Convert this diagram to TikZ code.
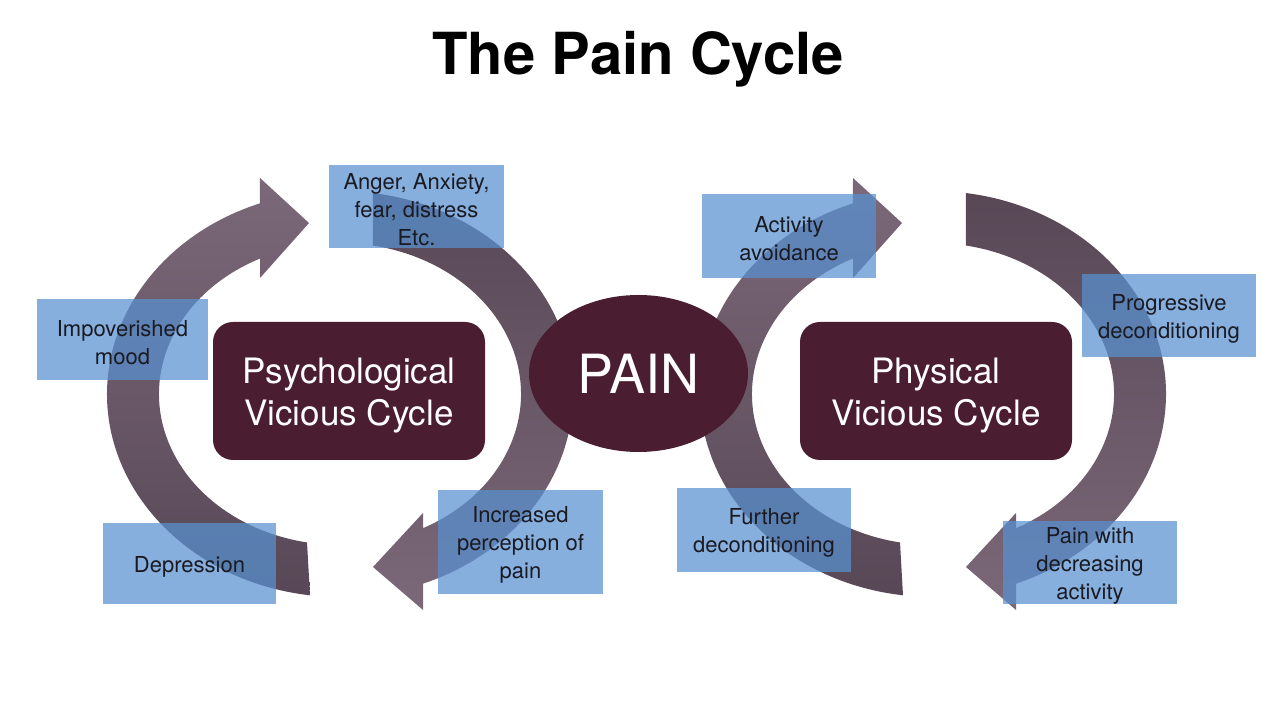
\documentclass[tikz,border=0pt]{standalone}
\usepackage{fontspec}
\setmainfont{TeX Gyre Heros}
\usetikzlibrary{shapes.geometric}
\definecolor{arrlight}{HTML}{7B6878}
\definecolor{arrdark}{HTML}{584856}
\definecolor{boxblue}{HTML}{5891D1}
\definecolor{plum}{HTML}{4A1D31}
\definecolor{labeltext}{HTML}{1A1A22}
\begin{document}
\begin{tikzpicture}[x=1pt,y=1pt,
  arrowup/.style={top color=arrlight,bottom color=arrdark,draw=none},
  arrowdown/.style={top color=arrdark,bottom color=arrlight,draw=none},
  bluebox/.style={rectangle,fill=boxblue,fill opacity=0.72,draw=none,inner sep=0pt},
  bluetext/.style={fill=none,draw=none,text opacity=1,fill opacity=1,text=labeltext,
    inner sep=0pt,align=center,yshift=-3pt,font=\fontsize{22}{28}\selectfont},
  cyclebox/.style={rectangle,rounded corners=20pt,fill=plum,draw=none,
    inner sep=0pt,minimum width=272pt,minimum height=138pt},
  cycletext/.style={fill=none,draw=none,text=white,inner sep=0pt,align=center,
    yshift=-5pt,font=\fontsize{35}{42}\selectfont},
  painnode/.style={ellipse,fill=plum,text=white,draw=none,inner sep=0pt,
    minimum width=219pt,minimum height=157pt,font=\fontsize{54}{60}\selectfont}]
\useasboundingbox (0,0) rectangle (1280,720);
\fill[white] (0,0) rectangle (1280,720);

% title
\node[anchor=base,font=\bfseries\fontsize{58}{64}\selectfont] (title) at (638,645) {The Pain Cycle};

% circular arrows of both cycles
\foreach \sx in {0,593}{
\begin{scope}[shift={(340+\sx,326)}]
  \path[arrowup] (262.6:233pt and 203pt)
    arc[start angle=262.6,end angle=110.1,x radius=233pt,y radius=203pt]
    -- (-80,216) -- (-31,171) -- (-80,116)
    -- (116.2:181pt and 151pt)
    arc[start angle=116.2,end angle=259.5,x radius=181pt,y radius=151pt] -- cycle;
  \path[arrowdown] (81.9:233pt and 203pt)
    arc[start angle=81.9,end angle=-69.1,x radius=233pt,y radius=203pt]
    -- (83,-216) -- (33,-173) -- (83,-119)
    -- (-62.7:181pt and 151pt)
    arc[start angle=-62.7,end angle=79.5,x radius=181pt,y radius=151pt] -- cycle;
\end{scope}
}

% label boxes
\node[bluebox,minimum width=175pt,minimum height=83pt,label={[bluetext]center:{Anger, Anxiety,\\fear, distress\\Etc.}}] (anger) at (416.5,513.5) {};
\node[bluebox,minimum width=171pt,minimum height=81pt,label={[bluetext]center:{Impoverished\\mood}}] (impov) at (122.5,380.5) {};
\node[bluebox,minimum width=173pt,minimum height=81pt,label={[bluetext]center:{Depression}}] (depr) at (189.5,156.5) {};
\node[bluebox,minimum width=165pt,minimum height=104pt,label={[bluetext]center:{Increased\\perception of\\pain}}] (incr) at (520.5,178) {};
\node[bluebox,minimum width=174pt,minimum height=84pt,label={[bluetext]center:{Activity\\avoidance}}] (activ) at (789,484) {};
\node[bluebox,minimum width=174pt,minimum height=83pt,label={[bluetext]center:{Progressive\\deconditioning}}] (progr) at (1169,404.5) {};
\node[bluebox,minimum width=174pt,minimum height=84pt,label={[bluetext]center:{Further\\deconditioning}}] (further) at (764,190) {};
\node[bluebox,minimum width=174pt,minimum height=83pt,label={[bluetext]center:{Pain with\\decreasing\\activity}}] (painw) at (1090,157.5) {};

% central shapes
\node[cyclebox,label={[cycletext]center:{Psychological\\Vicious Cycle}}] (psych) at (349,329) {};
\node[cyclebox,label={[cycletext]center:{Physical\\Vicious Cycle}}] (phys) at (936,329) {};
\node[painnode] (pain) at (638.5,346.5) {PAIN};
\end{tikzpicture}
\end{document}
